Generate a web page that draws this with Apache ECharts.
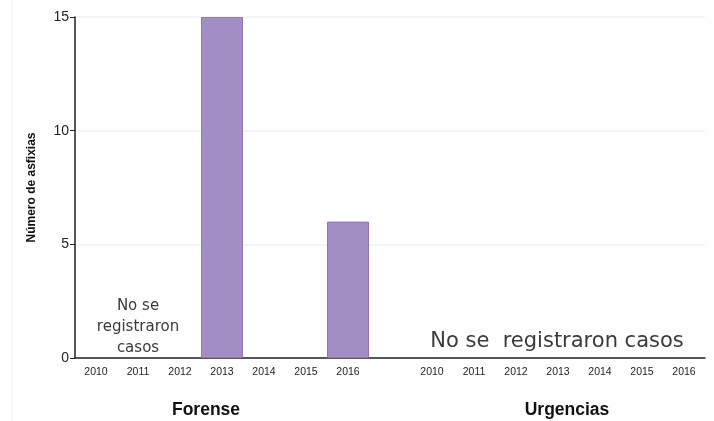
<!DOCTYPE html>
<html>
<head>
<meta charset="utf-8">
<script src="https://cdn.jsdelivr.net/npm/echarts@6/dist/echarts.min.js"></script>
<style>
html,body{margin:0;padding:0;background:#fff;}
#main{width:714px;height:421px;}
</style>
</head>
<body>
<div id="main"></div>
<script>
// años por panel
var years = ['2010', '2011', '2012', '2013', '2014', '2015', '2016'];
var forense = [0, 0, 0, 15, 0, 0, 6];
var urgencias = [0, 0, 0, 0, 0, 0, 0];
var yTicks = [0, 5, 10, 15];

// un solo eje con una categoria vacia entre paneles
var cats = years.concat(['']).concat(years);
var values = [];
for (var i = 0; i < forense.length; i++) values.push(forense[i] || '-');
values.push('-');
for (var j = 0; j < urgencias.length; j++) values.push(urgencias[j] || '-');

var myChart = echarts.init(document.getElementById('main'));
myChart.setOption({
	animation: false,
	grid: {left: 75, right: 9, top: 17, bottom: 63},
	xAxis: [{
		type: 'category',
		data: cats,
		axisLine: {lineStyle: {color: '#222', width: 1.5}},
		axisTick: {
			alignWithLabel: true,
			length: 5,
			lineStyle: {color: '#222'},
			interval: function(idx) { return idx !== 7; }
		},
		axisLabel: {
			interval: 0,
			color: '#222',
			fontFamily: 'Liberation Sans',
			fontSize: 10.5,
			margin: 9
		}
	}],
	yAxis: [{
		type: 'value',
		min: yTicks[0],
		max: yTicks[yTicks.length - 1],
		interval: 5,
		name: 'Número de asfixias',
		nameLocation: 'middle',
		nameGap: 37,
		nameTextStyle: {fontFamily: 'Liberation Sans', fontWeight: 'bold', fontSize: 12, color: '#111'},
		axisLine: {show: true, lineStyle: {color: '#222', width: 1.5}},
		axisTick: {show: true, length: 5, lineStyle: {color: '#222'}},
		axisLabel: {color: '#222', fontFamily: 'Liberation Sans', fontSize: 14, margin: 6},
		splitLine: {lineStyle: {color: '#edf2f2', width: 1.5}}
	}],
	series: [{
		type: 'bar',
		data: values,
		barWidth: '100%',
		itemStyle: {color: '#a28ec4', borderColor: '#8f78b9', borderWidth: 1}
	}],
	graphic: [
		{type: 'line', shape: {x1: 12, y1: 0, x2: 12, y2: 421}, style: {stroke: '#f0f0f0', lineWidth: 1}},
		{type: 'text', x: 138, y: 327, style: {text: 'No se\nregistraron\ncasos', fontFamily: 'DejaVu Sans', fontSize: 15, lineHeight: 21, fill: '#3a3a3a', align: 'center', verticalAlign: 'middle'}},
		{type: 'text', x: 557, y: 342, style: {text: 'No se  registraron casos', fontFamily: 'DejaVu Sans', fontSize: 21, fill: '#3a3a3a', align: 'center', verticalAlign: 'middle'}},
		{type: 'text', x: 206, y: 410, style: {text: 'Forense', fontFamily: 'Liberation Sans', fontWeight: 'bold', fontSize: 17.5, fill: '#111', align: 'center', verticalAlign: 'middle'}},
		{type: 'text', x: 567, y: 410, style: {text: 'Urgencias', fontFamily: 'Liberation Sans', fontWeight: 'bold', fontSize: 17.5, fill: '#111', align: 'center', verticalAlign: 'middle'}}
	]
});
</script>
</body>
</html>
